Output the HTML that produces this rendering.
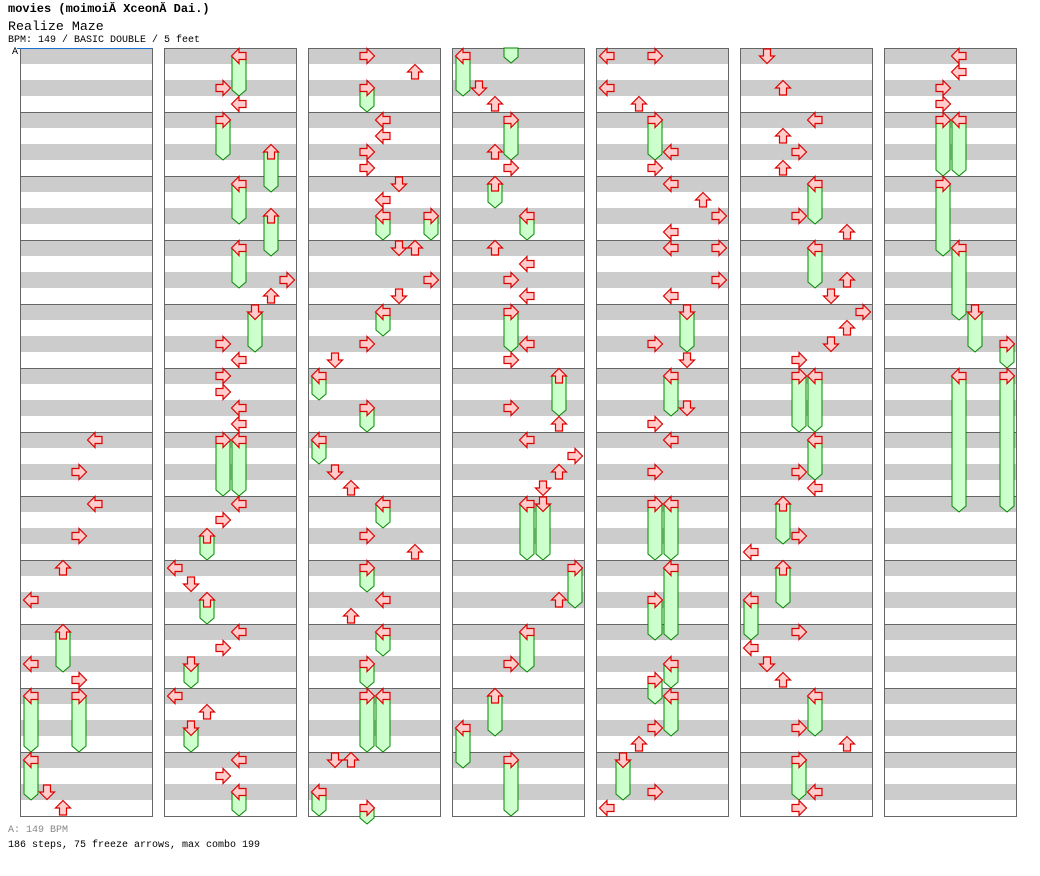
<!DOCTYPE html>
<html><head><meta charset="utf-8">
<style>
html,body{margin:0;padding:0;background:#fff;}
body{width:1040px;height:876px;overflow:hidden;position:relative;font-family:"Liberation Mono",monospace;}
.t{position:absolute;left:8px;white-space:pre;}
</style></head><body>
<div class="t" style="top:2px;font-size:12px;font-weight:bold;">movies (moimoiĂ XceonĂ Dai.)</div>
<div class="t" style="top:19px;font-size:13.3px;">Realize Maze</div>
<div class="t" style="top:35px;font-size:10px;">BPM: 149 / BASIC DOUBLE / 5 feet</div>
<div class="t" style="top:47px;left:12px;font-size:10px;">A</div>
<div class="t" style="top:825px;font-size:10px;color:#888;">A: 149 BPM</div>
<div class="t" style="top:840px;font-size:10px;">186 steps, 75 freeze arrows, max combo 199</div>
<svg id="s" width="1040" height="876" style="position:absolute;left:0;top:0;" xmlns="http://www.w3.org/2000/svg"></svg>
<script>
var D=[
"432:4,464:3,496:4,528:3,560:2,592:0,624:2:656,656:0,672:3,688:0:736,688:3:736,752:0:784,784:1,800:2",
"48:4:80,80:3,96:4,112:3:144,144:6:176,176:4:208,208:6:240,240:4:272,272:7,288:6,304:5:336,336:3,352:4,368:3,384:3,400:4,416:4,432:3:480,432:4:480,496:4,512:3,528:2:544,560:0,576:1,592:2:608,624:4,640:3,656:1:672,688:0,704:2,720:1:736,752:4,768:3,784:4:800",
"48:3,64:6,80:3:96,112:4,128:4,144:3,160:3,176:5,192:4,208:4:224,208:7:224,240:5,240:6,272:7,288:5,304:4:320,336:3,352:1,368:0:384,400:3:416,432:0:448,464:1,480:2,496:4:512,528:3,544:6,560:3:576,592:4,608:2,624:4:640,656:3:672,688:3:736,688:4:736,752:1,752:2,784:0:800,800:3:808",
"48:0:80,80:1,96:2,112:3:144,144:2,160:3,176:2:192,208:4:224,240:2,256:4,272:3,288:4,304:3:336,336:4,352:3,368:6:400,400:3,416:6,432:4,448:7,464:6,480:5,496:4:544,496:5:544,560:7:592,592:6,624:4:656,656:3,688:2:720,720:0:752,752:3:800",
"48:0,48:3,80:0,96:2,112:3:144,144:4,160:3,176:4,192:6,208:7,224:4,240:4,240:7,272:7,288:4,304:5:336,336:3,352:5,368:4:400,400:5,416:3,432:4,464:3,496:3:544,496:4:544,560:4:624,592:3:624,656:4:672,672:3:688,688:4:720,720:3,736:2,752:1:784,784:3,800:0",
"48:1,80:2,112:4,128:2,144:3,160:2,176:4:208,208:3,224:6,240:4:272,272:6,288:5,304:7,320:6,336:5,352:3,368:3:416,368:4:416,432:4:464,464:3,480:4,496:2:528,528:3,544:0,560:2:592,592:0:624,624:3,640:0,656:1,672:2,688:4:720,720:3,736:6,752:3:784,784:4,800:3",
"48:4,64:4,80:3,96:3,112:3:160,112:4:160,176:3:240,240:4:304,304:5:336,336:7:352,368:4:496,368:7:496"
];
var h='';
for(var c=0;c<7;c++){
 var cx=20+144*c;
 for(var y=48;y<816;y+=32) h+='<rect x="'+cx+'" y="'+y+'" width="132" height="16" fill="#cccccc"/>';
 for(var y=112;y<816;y+=64) h+='<line x1="'+cx+'" y1="'+(y+0.5)+'" x2="'+(cx+132)+'" y2="'+(y+0.5)+'" stroke="#666" stroke-width="1"/>';
 h+='<rect x="'+(cx+0.5)+'" y="48.5" width="132" height="768" fill="none" stroke="#666" stroke-width="1"/>';
}
h+='<line x1="17" y1="48.5" x2="152" y2="48.5" stroke="#1a6fd0" stroke-width="1"/>';
function fr(lx,t,e){return '<polygon points="'+(lx+1)+','+t+' '+(lx+15)+','+t+' '+(lx+15)+','+(e+10)+' '+(lx+8)+','+(e+16)+' '+(lx+1)+','+(e+10)+'" fill="#ccffcc" stroke="#008800" stroke-width="1"/>';}
var fz='',ar='';
fz+=fr(452+3+48,48,47);
var rot=[0,270,90,180];
for(var c=0;c<7;c++){
 var cx=20+144*c;
 D[c].split(',').forEach(function(s){
  var p=s.split(':').map(Number),y=p[0],l=p[1],lx=cx+3+16*l;
  if(p.length>2) fz+=fr(lx,y+8,p[2]);
  ar+='<g transform="translate('+(lx+8)+','+(y+8)+') rotate('+rot[l%4]+')"><polygon points="-7.5,0 0,-7.5 0,-3.5 7,-3.5 7,3.5 0,3.5 0,7.5" fill="#ffcccc" stroke="#dd0000" stroke-width="1.2"/></g>';
 });
}
document.getElementById('s').innerHTML=h+fz+ar;
</script>
</body></html>
